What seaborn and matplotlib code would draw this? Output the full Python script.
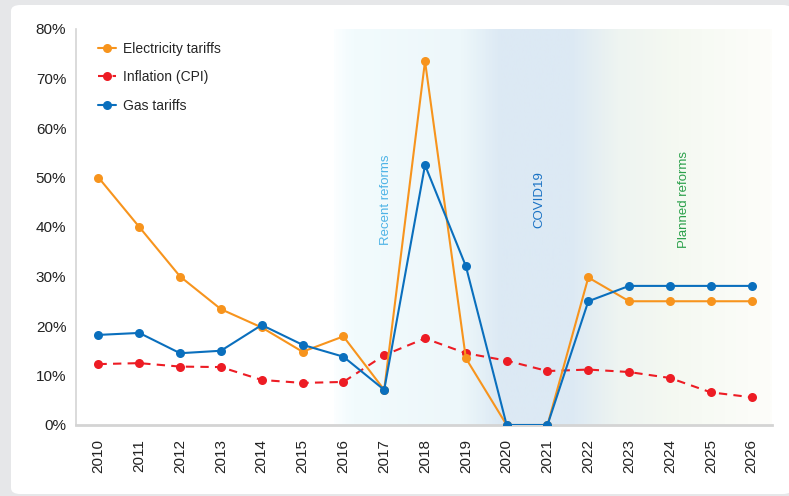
import numpy as np
import pandas as pd
import matplotlib
matplotlib.use("Agg")
import matplotlib.pyplot as plt
from matplotlib.colors import LinearSegmentedColormap
from matplotlib.patches import FancyBboxPatch
from matplotlib.ticker import PercentFormatter
import seaborn as sns

years = list(range(2010, 2027))
electricity = [50.0, 40.0, 30.0, 23.4, 19.7, 14.8, 17.9, 7.1, 73.5, 13.5, 0.0, 0.0, 29.8, 25.0, 25.0, 25.0, 25.0]
inflation = [12.3, 12.5, 11.8, 11.7, 9.1, 8.5, 8.7, 14.1, 17.5, 14.5, 13.0, 10.9, 11.2, 10.7, 9.5, 6.6, 5.6]
gas = [18.2, 18.6, 14.5, 15.0, 20.2, 16.2, 13.8, 7.1, 52.5, 32.1, 0.0, 0.0, 25.0, 28.1, 28.1, 28.1, 28.1]

periods = ["Recent reforms", "COVID19", "Planned reforms"]
period_x = [2017.05, 2020.8, 2024.35]
period_colors = ["#4db3e6", "#1a72c4", "#2aa04a"]

df = pd.DataFrame({"year": years, "Electricity tariffs": electricity,
                   "Inflation (CPI)": inflation, "Gas tariffs": gas})

sns.set_style("white")
plt.rcParams["font.family"] = ["Liberation Sans", "DejaVu Sans"]

fig = plt.figure(figsize=(7.89, 4.96), dpi=100)
fig.patch.set_facecolor("#e6e7e9")
card = FancyBboxPatch((11 / 789, 0.004), 0.99, 1 - 5 / 496 - 0.004,
                      boxstyle="round,pad=0,rounding_size=0.012",
                      transform=fig.transFigure, facecolor="white",
                      edgecolor="none", zorder=-10)
fig.add_artist(card)

ax = fig.add_axes([76 / 789, 1 - 425 / 496, (772 - 76) / 789, (425 - 29) / 496])
ax.set_facecolor("none")

# background gradient behind the reform / covid / planned periods
stops = [(0.0, "#fbfeff"), (0.04, "#f2fbfd"), (0.29, "#edf7fa"), (0.38, "#dce9f4"),
         (0.54, "#dce9f4"), (0.65, "#eef4f1"), (0.79, "#f5f9f2"), (1.0, "#fdfdfa")]
cmap = LinearSegmentedColormap.from_list("bands", stops)
ax.imshow(np.linspace(0, 1, 400)[None, :], aspect="auto", cmap=cmap,
          extent=[2015.78, 2026.5, 0, 80], zorder=0)

sns.lineplot(data=df, x="year", y="Electricity tariffs", ax=ax, color="#f7941d",
             marker="o", markersize=6.5, markeredgewidth=0, linewidth=1.5,
             label="Electricity tariffs", zorder=3)
sns.lineplot(data=df, x="year", y="Inflation (CPI)", ax=ax, color="#ed1c24",
             marker="o", markersize=6.5, markeredgewidth=0, linewidth=1.5,
             linestyle=(0, (4, 3)), label="Inflation (CPI)", zorder=2)
sns.lineplot(data=df, x="year", y="Gas tariffs", ax=ax, color="#0a6fbd",
             marker="o", markersize=6.5, markeredgewidth=0, linewidth=1.5,
             label="Gas tariffs", zorder=4)

for name, xpos, col in zip(periods, period_x, period_colors):
    ax.text(xpos, 45.5, name, rotation=90, ha="center", va="center",
            color=col, fontsize=9.5)

ax.set_xlim(2009.45, 2026.5)
ax.set_ylim(0, 80)
ax.set_xticks(years)
ax.set_xticklabels([str(y) for y in years], rotation=90, fontsize=11, color="#222222")
ax.set_yticks(range(0, 81, 10))
ax.yaxis.set_major_formatter(PercentFormatter(decimals=0))
ax.tick_params(axis="y", labelsize=11, labelcolor="#222222", length=0, pad=7)
ax.tick_params(axis="x", length=0, pad=10)
ax.set_xlabel("")
ax.set_ylabel("")

for side in ["top", "right"]:
    ax.spines[side].set_visible(False)
ax.spines["left"].set_color("#d4d4d4")
ax.spines["left"].set_linewidth(1.2)
ax.spines["bottom"].set_color("#d4d4d4")
ax.spines["bottom"].set_linewidth(2)

leg = ax.legend(loc="upper left", bbox_to_anchor=(0.014, 1.0), frameon=False,
                fontsize=10, labelspacing=1.05, handlelength=1.3, handletextpad=0.45)

fig.savefig("out.png", dpi=100, facecolor=fig.get_facecolor())
